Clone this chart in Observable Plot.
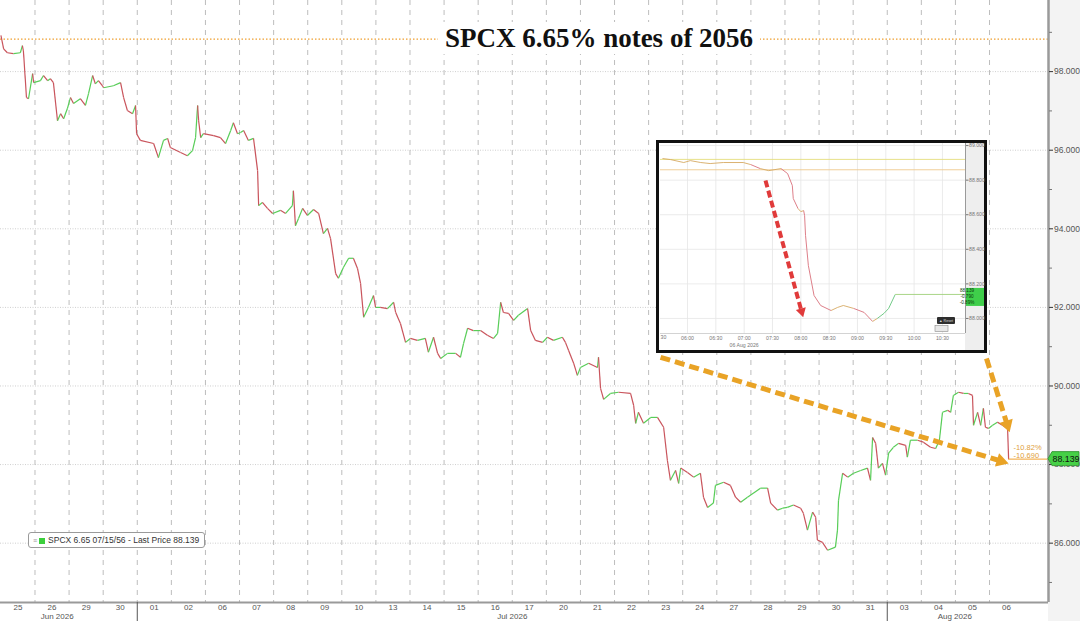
<!DOCTYPE html>
<html><head><meta charset="utf-8">
<script src="https://cdn.jsdelivr.net/npm/d3@7"></script>
<script src="https://cdn.jsdelivr.net/npm/@observablehq/plot@0.6"></script>
<style>
body{margin:0;background:#fff;}
#wrap{position:relative;width:1080px;height:621px;overflow:hidden;background:linear-gradient(to right,#fff 0,#fff 1048px,#f3f3f3 1048px);font-family:"Liberation Sans",Arial,sans-serif;}
#main{position:absolute;left:0;top:0;}
#title{position:absolute;left:438px;top:22px;width:322px;height:32px;background:#fff;font:bold 27px "Liberation Serif","Times New Roman",serif;color:#111;text-align:center;line-height:32px;white-space:nowrap;}
#inset{position:absolute;left:656px;top:140px;width:325px;height:207px;border:3px solid #111;background:linear-gradient(to right,#fff 0,#fff 306px,#eeeeee 306px);}
#legend{position:absolute;left:28px;top:532px;height:14px;padding:0 5px 0 4px;border:1px solid #9a9a9a;border-radius:3px;background:#fff;font:8.5px "Liberation Sans",Arial,sans-serif;line-height:14px;color:#333;white-space:nowrap;}
#legend .ham{color:#999;font-size:7px;margin-right:2px;}
#legend .sw{display:inline-block;width:6px;height:6px;background:#3ccf3c;margin-right:3px;vertical-align:-0.5px;}
</style></head><body>
<div id="wrap">
  <div id="main"></div>
  <div id="title">SPCX 6.65% notes of 2056</div>
  <div id="inset"></div>
  <div id="legend"><span class="ham">&#8801;</span><span class="sw"></span><span id="legtxt"></span></div>
</div>
<script>
// ---------- DATA ----------
const dayLabels = ["25","26","29","30","01","02","06","07","08","09","10","13","14","15","16","17","20","21","22","23","24","27","28","29","30","31","03","04","05","06"];
const monthLabels = ["Jun 2026","Jul 2026","Aug 2026"];
const monthLabelPos = [1.65, 15.0, 27.98];
const monthBounds = [4, 26];
const yTicks = [86, 88, 90, 92, 94, 96, 98];
const yMinor = [85, 87, 89, 91, 93, 95, 97, 99];
const refPrice = 98.829;
const seriesName = "SPCX 6.65 07/15/56 - Last Price";

// trading-day position (day i spans [i, i+1])
const mainT = [0.00,0.08,0.19,0.37,0.57,0.63,0.66,0.75,0.81,0.93,0.96,1.16,1.25,1.37,1.45,1.54,1.66,1.75,1.84,1.95,2.04,2.13,2.33,2.48,2.57,2.69,2.77,2.86,2.98,3.01,3.30,3.51,3.60,3.71,3.86,3.95,3.98,4.09,4.48,4.62,4.77,4.89,4.97,5.27,5.47,5.62,5.71,5.77,5.80,5.86,5.94,6.24,6.44,6.59,6.74,6.82,6.94,
7.03,7.12,7.26,7.41,7.53,7.56,7.67,7.82,7.97,8.20,8.35,8.55,8.58,8.64,8.73,8.85,8.99,9.17,9.32,9.46,9.58,9.67,9.82,9.90,10.05,10.20,10.34,10.46,10.55,10.64,10.78,10.93,10.99,11.13,11.34,11.52,11.58,11.72,11.87,12.01,12.22,12.45,12.54,12.69,12.81,12.90,13.10,13.34,13.48,13.57,13.69,13.86,14.07,14.27,14.45,14.57,14.66,14.74,14.89,15.04,15.18,15.45,15.54,15.68,15.89,16.03,16.21,16.47,16.56,16.65,16.80,16.91,17.00,17.24,17.50,17.53,17.59,17.68,
17.88,18.12,18.47,18.56,18.62,18.70,18.85,19.06,19.26,19.44,19.55,19.64,19.79,19.88,19.94,20.14,20.32,20.52,20.61,20.73,20.90,20.96,21.20,21.40,21.55,21.70,21.90,22.28,22.49,22.58,22.78,22.93,23.07,23.25,23.46,23.54,23.66,23.81,23.90,23.95,24.10,24.25,24.48,24.54,24.57,24.69,24.84,25.01,25.22,25.42,25.51,25.57,25.66,25.74,25.86,25.95,
26.04,26.18,26.33,26.54,26.59,26.68,26.89,27.06,27.27,27.42,27.53,27.62,27.77,27.86,27.94,28.09,28.24,28.38,28.50,28.53,28.65,28.74,28.82,28.88,28.97,29.09,29.23,29.38,29.53,29.56];
const mainV = [98.92,98.58,98.48,98.46,98.48,98.66,98.53,97.34,97.31,97.95,97.72,97.77,97.90,97.77,97.82,97.72,96.75,96.93,96.80,97.06,97.34,97.19,97.31,97.14,97.44,97.90,97.69,97.77,97.64,97.59,97.64,97.72,97.34,97.01,96.93,97.14,96.42,96.25,96.17,95.81,96.25,96.30,96.07,95.94,95.86,95.99,96.32,97.14,96.75,96.32,96.42,96.37,96.32,96.17,96.50,96.70,96.42,
96.45,96.50,96.25,96.30,95.48,94.59,94.67,94.52,94.39,94.47,94.39,94.59,94.97,94.08,94.26,94.52,94.34,94.49,94.39,93.88,94.01,93.75,92.86,92.74,93.02,93.25,93.25,92.99,92.61,91.75,92.00,92.30,92.00,92.00,91.97,92.13,91.87,91.59,91.11,91.21,91.16,91.21,90.86,91.24,90.83,90.70,90.83,90.83,90.73,91.08,91.47,91.41,91.41,91.29,91.21,91.34,92.13,91.87,91.85,91.67,91.80,91.97,91.41,91.16,91.11,91.24,91.16,91.24,91.11,90.91,90.58,90.27,90.47,90.58,90.47,90.73,89.94,89.66,
89.81,89.84,89.81,89.51,89.05,89.33,89.05,89.20,89.20,88.95,88.11,87.60,87.85,87.52,87.91,87.80,87.68,87.78,87.17,86.91,87.02,87.47,87.55,87.47,87.17,87.04,87.17,87.40,87.40,87.02,86.84,86.89,86.91,86.97,86.89,86.76,86.33,86.79,86.66,86.08,86.02,85.82,85.90,86.33,87.09,87.78,87.68,87.78,87.85,87.91,87.60,88.69,88.54,87.91,88.03,87.73,
88.29,88.44,88.54,88.49,88.19,88.62,88.62,88.57,88.44,88.41,88.62,89.33,89.38,89.33,89.76,89.84,89.81,89.81,89.76,89.00,89.33,89.00,89.43,88.95,88.92,89.00,89.08,89.00,88.92,88.139];

// annotation arrows (data space)
const orangeArrows = [
  {t1: 19.35, v1: 90.73, t2: 29.56, v2: 88.03},
  {t1: 28.91, v1: 90.70, t2: 29.59, v2: 88.82}
];

// inset: 06 Aug 2026 intraday (minutes since midnight)
const insetTimeTicks = [360, 390, 420, 450, 480, 510, 540, 570, 600, 630];
const insetYTicks = [88.0, 88.2, 88.4, 88.6, 88.8, 89.0];
const insetRefLines = [88.92, 88.86];
const insetM = [333.5,342,356,363,374,384,398,419,427,437,446,459,466,471,472,477,480,483,484,485,488,494,501,512,519,525,536,547,556,561,568,573,580,654];
const insetV = [88.925,88.919,88.902,88.913,88.902,88.896,88.902,88.902,88.890,88.867,88.855,88.867,88.838,88.769,88.694,88.636,88.618,88.624,88.595,88.480,88.306,88.133,88.075,88.046,88.064,88.075,88.058,88.035,87.983,88.000,88.029,88.058,88.139,88.139];
const insetOpen = 88.929;
const redArrow = {m1: 442.6, v1: 88.798, m2: 482.5, v2: 88.007};

// ---------- MAIN CHART ----------
const W = 1080, H = 621, mL = 0, mR = 32, mT = 0, mB = 19;
const X_DOMAIN = [-0.012, 30.73];
const Y_DOMAIN = [84.49, 99.81];
const sx = t => mL + (t - X_DOMAIN[0]) / (X_DOMAIN[1] - X_DOMAIN[0]) * (W - mL - mR);
const sy = v => mT + (Y_DOMAIN[1] - v) / (Y_DOMAIN[1] - Y_DOMAIN[0]) * (H - mT - mB);
const ix = px => X_DOMAIN[0] + (px - mL) / (W - mL - mR) * (X_DOMAIN[1] - X_DOMAIN[0]);
const iy = py => Y_DOMAIN[1] - (py - mT) / (H - mT - mB) * (Y_DOMAIN[1] - Y_DOMAIN[0]);

const pts = mainT.map((t, i) => ({t, v: mainV[i]}));
const segs = pts.slice(1).map((p, i) => ({t1: pts[i].t, v1: pts[i].v, t2: p.t, v2: p.v,
  c: p.v >= pts[i].v ? "#58cd58" : "#c9545c"}));
const lastT = mainT[mainT.length - 1];
const lastPrice = mainV[mainV.length - 1];
const chg = lastPrice - refPrice;
const pct = chg / refPrice * 100;
const dayCenters = dayLabels.map((d, i) => i + 0.5);
const dayBounds = dayLabels.slice(1).map((d, i) => i + 1);

function arrowGeom(a, fx, fy, ifx, ify, headR) {
  const x0 = fx(a.x1), y0 = fy(a.y1), x1 = fx(a.x2), y1 = fy(a.y2);
  const L = Math.hypot(x1 - x0, y1 - y0), ux = (x1 - x0) / L, uy = (y1 - y0) / L;
  const tipDist = 1.555 * headR;
  return {
    body: {x1: a.x1, y1: a.y1, x2: ifx(x1 - ux * (tipDist + 1)), y2: ify(y1 - uy * (tipDist + 1))},
    head: {x: ifx(x1 - ux * tipDist), y: ify(y1 - uy * tipDist), a: Math.atan2(ux, -uy) * 180 / Math.PI}
  };
}
const oa = orangeArrows.map(a => arrowGeom({x1: a.t1, y1: a.v1, x2: a.t2, y2: a.v2}, sx, sy, ix, iy, 5.2));

const main = Plot.plot({
  width: W, height: H, marginLeft: mL, marginRight: mR, marginTop: mT, marginBottom: mB,
  style: {background: "transparent", fontFamily: "Liberation Sans, Arial, sans-serif", fontSize: "8px", color: "#444", overflow: "visible"},
  x: {domain: X_DOMAIN, axis: null, label: null},
  y: {domain: Y_DOMAIN, axis: null, label: null},
  color: {type: "identity"},
  marks: [
    Plot.ruleY(yTicks, {stroke: "#cfcfcf", strokeDasharray: "1,1.5", strokeWidth: 1}),
    Plot.ruleX(dayBounds, {stroke: "#bdbdbd", strokeDasharray: "5,5", strokeWidth: 1}),
    Plot.ruleY([refPrice], {stroke: "#f0a030", strokeDasharray: "1.5,2", strokeWidth: 1.2}),
    Plot.link(segs, {x1: "t1", y1: "v1", x2: "t2", y2: "v2", stroke: "c", strokeWidth: 1.2}),
    Plot.ruleY([lastPrice], {x1: () => lastT, x2: () => X_DOMAIN[1], stroke: "#f0a030", strokeWidth: 1}),
    Plot.text([pct.toFixed(2) + "%"], {x: () => lastT, y: () => lastPrice, dx: 5, dy: -12, textAnchor: "start", fontSize: 7.5, fill: "#e0a040"}),
    Plot.text([chg.toFixed(3)], {x: () => lastT, y: () => lastPrice, dx: 5, dy: -4, textAnchor: "start", fontSize: 7.5, fill: "#e0a040"}),
    Plot.link(oa.map(d => d.body), {x1: "x1", y1: "y1", x2: "x2", y2: "y2", stroke: "#e9a326", strokeWidth: 5, strokeDasharray: "10,5"}),
    Plot.dot(oa.map(d => d.head), {x: "x", y: "y", rotate: "a", symbol: "triangle", r: 5.2, fill: "#e9a326", stroke: "none"}),
    Plot.ruleY([Y_DOMAIN[0]], {stroke: "#9a9a9a", strokeWidth: 2}),
    Plot.ruleX([X_DOMAIN[1]], {stroke: "#9a9a9a", strokeWidth: 2.5}),
    Plot.axisY(yTicks, {anchor: "right", tickSize: 4, tickPadding: 1.5, tickFormat: d => d.toFixed(3), fontSize: 8.5, fill: "#555", stroke: "#333", label: null}),
    Plot.axisY(yMinor, {anchor: "right", tickSize: 3, tickFormat: () => "", stroke: "#777", label: null}),
    Plot.axisX(dayCenters, {anchor: "bottom", tickSize: 0, tickPadding: 1.5, tickFormat: d => dayLabels[Math.floor(d)], fontSize: 8, fill: "#555", label: null}),
    Plot.axisX(monthBounds, {anchor: "bottom", tickSize: 19, tickFormat: () => "", stroke: "#555", label: null}),
    Plot.text(monthLabels, {x: (d, i) => monthLabelPos[i], frameAnchor: "bottom", dy: 16, fontSize: 8, fill: "#555"})
  ]
});
document.getElementById("main").appendChild(main);

// last price tag on the right axis
{
  const svg = d3.select(main);
  const yy = sy(lastPrice), x0 = sx(X_DOMAIN[1]);
  const g = svg.append("g");
  g.append("path").attr("d", `M${x0},${yy} L${x0 + 4},${yy - 7} H${x0 + 31} V${yy + 7} H${x0 + 4} Z`)
    .attr("fill", "#46d046").attr("stroke", "#2b8f2b").attr("stroke-width", 0.8);
  g.append("text").attr("x", x0 + 18).attr("y", yy).attr("dy", "0.35em").attr("text-anchor", "middle")
    .attr("font-size", 8.8).attr("font-family", "Liberation Sans, Arial, sans-serif").attr("fill", "#111").text(lastPrice.toFixed(3));
}
document.getElementById("legtxt").textContent = seriesName + " " + lastPrice.toFixed(3);

// ---------- INSET ----------
const iW = 325, iH = 207, imL = 1, imR = 19, imT = 0, imB = 17;
const IX = [331.4, 654.4], IY = [87.913, 89.012];
const isx = m => imL + (m - IX[0]) / (IX[1] - IX[0]) * (iW - imL - imR);
const isy = v => imT + (IY[1] - v) / (IY[1] - IY[0]) * (iH - imT - imB);
const iix = px => IX[0] + (px - imL) / (iW - imL - imR) * (IX[1] - IX[0]);
const iiy = py => IY[1] - (py - imT) / (iH - imT - imB) * (IY[1] - IY[0]);
const ipts = insetM.map((m, i) => ({m, v: insetV[i]}));
const isegs = ipts.slice(1).map((p, i) => {
  const dv = p.v - ipts[i].v;
  return {m1: ipts[i].m, v1: ipts[i].v, m2: p.m, v2: p.v,
    c: Math.abs(dv) < 0.02 ? (i > 28 ? "#9fd07a" : "#d6a962") : (dv > 0 ? "#62c47a" : "#d9707c")};
});
const hhmm = m => String(Math.floor(m / 60)).padStart(2, "0") + ":" + String(m % 60).padStart(2, "0");
const ra = arrowGeom({x1: redArrow.m1, y1: redArrow.v1, x2: redArrow.m2, y2: redArrow.v2}, isx, isy, iix, iiy, 3.8);
const iLast = insetV[insetV.length - 1];

const inset = Plot.plot({
  width: iW, height: iH, marginLeft: imL, marginRight: imR, marginTop: imT, marginBottom: imB,
  style: {background: "transparent", fontFamily: "Liberation Sans, Arial, sans-serif", fontSize: "5.5px", color: "#666", overflow: "visible"},
  x: {domain: IX, axis: null, label: null},
  y: {domain: IY, axis: null, label: null},
  color: {type: "identity"},
  marks: [
    Plot.ruleX(insetTimeTicks, {stroke: "#e6e6e6", strokeWidth: 0.8}),
    Plot.ruleY(insetYTicks, {stroke: "#e6e6e6", strokeWidth: 0.8}),
    Plot.ruleY([insetRefLines[0]], {stroke: "#e4dc7c", strokeWidth: 0.9}),
    Plot.ruleY([insetRefLines[1]], {stroke: "#efca8c", strokeWidth: 0.9}),
    Plot.link(isegs, {x1: "m1", y1: "v1", x2: "m2", y2: "v2", stroke: "c", strokeWidth: 0.9}),
    Plot.link([ra.body], {x1: "x1", y1: "y1", x2: "x2", y2: "y2", stroke: "#e03a3a", strokeWidth: 4, strokeDasharray: "7,3.5"}),
    Plot.dot([ra.head], {x: "x", y: "y", rotate: "a", symbol: "triangle", r: 3.8, fill: "#e03a3a", stroke: "none"}),
    Plot.ruleX([IX[1]], {stroke: "#9a9a9a", strokeWidth: 1}),
    Plot.ruleY([IY[0]], {stroke: "#c8c8c8", strokeWidth: 0.8}),
    Plot.axisY(insetYTicks, {anchor: "right", tickSize: 2.5, tickPadding: 1, tickFormat: d => d.toFixed(3), fontSize: 5.2, fill: "#777", stroke: "#777", label: null}),
    Plot.axisX(insetTimeTicks, {anchor: "bottom", tickSize: 0, tickPadding: 2.5, tickFormat: hhmm, fontSize: 5.2, fill: "#777", label: null}),
    Plot.text(["30"], {x: () => IX[0], frameAnchor: "bottom", dy: 5.5, textAnchor: "start", fontSize: 5.2, fill: "#777"}),
    Plot.text(["06 Aug 2026"], {x: () => 420, frameAnchor: "bottom", dy: 13, fontSize: 5.2, fill: "#777"})
  ]
});
document.getElementById("inset").appendChild(inset);
{
  const svg = d3.select(inset);
  const x0 = isx(IX[1]) + 1, yy = isy(iLast);
  const g = svg.append("g").attr("font-family", "Liberation Sans, Arial, sans-serif");
  g.append("rect").attr("x", x0).attr("y", yy - 6).attr("width", 18).attr("height", 18).attr("fill", "#3fce4a");
  const ch = iLast - insetOpen;
  [iLast.toFixed(3), ch.toFixed(3), (ch / insetOpen * 100).toFixed(2) + "%"].forEach((s, i) => {
    g.append("text").attr("x", x0 + 1).attr("y", yy - 1.5 + i * 5.8).attr("font-size", 4.6).attr("fill", "#0b3a0b").text(s);
  });
  const fx = iW - imR, fy = iH - imB;
  g.append("rect").attr("x", fx - 28).attr("y", fy - 16).attr("width", 18).attr("height", 7).attr("rx", 1).attr("fill", "#2e2e2e");
  g.append("text").attr("x", fx - 19).attr("y", fy - 11).attr("text-anchor", "middle").attr("font-size", 3.6).attr("fill", "#ddd").text("\u25B2 Reset");
  g.append("rect").attr("x", fx - 30).attr("y", fy - 7.5).attr("width", 13).attr("height", 6).attr("fill", "#e8e8e8").attr("stroke", "#8a8a8a").attr("stroke-width", 0.6);
}
</script>
</body></html>
